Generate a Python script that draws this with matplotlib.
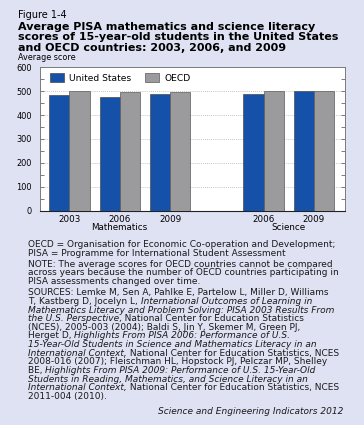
import numpy as np
import matplotlib
matplotlib.use('Agg')
import matplotlib.pyplot as plt
from matplotlib.ticker import MultipleLocator

plt.rcParams['font.family'] = ['DejaVu Sans']

# data
years = ['2003', '2006', '2009', '2006', '2009']
subjects = ['Mathematics', 'Science']
us_scores = [483, 474, 487, 489, 502]
oecd_scores = [500, 498, 496, 500, 501]
series_names = ['United States', 'OECD']

BG = '#dfe2f3'
BLUE = '#1551a8'
GRAY = '#9b9b9d'

fig = plt.figure(figsize=(3.64, 4.25), dpi=100, facecolor=BG)
W, H = 364.0, 425.0
renderer = fig.canvas.get_renderer()

def fx(px):
    return px / W

def fy(py):
    return 1 - py / H

def fit_size(s, target, **kw):      # font size that makes s about target px wide
    t = fig.text(0, 0, s, fontsize=10, **kw)
    w = t.get_window_extent(renderer).width
    t.remove()
    return 10 * target / w

tick_fs = fit_size('2003', 22)
ylab_fs = fit_size('600', 15.5)
leg_fs = fit_size('United States', 62)

ax = fig.add_axes([fx(40.3), fy(210.7), fx(344.5) - fx(40.3), fy(67.3) - fy(210.7)])
ax.set_facecolor('white')

pos = np.array([0, 1, 2, 3.86, 4.86])
bw = 0.4
ax.bar(pos - bw / 2, us_scores, bw, color=BLUE, edgecolor='#4a4a4a', linewidth=0.5,
       label=series_names[0], zorder=3)
ax.bar(pos + bw / 2, oecd_scores, bw, color=GRAY, edgecolor='#5a5a5a', linewidth=0.5,
       label=series_names[1], zorder=3)

ax.set_xlim(-0.58, 5.47)
ax.set_ylim(0, 600)
ax.yaxis.set_major_locator(MultipleLocator(100))
ax.yaxis.set_minor_locator(MultipleLocator(50))
ax.tick_params(axis='y', which='both', direction='in', length=3, width=0.6, color='#666666',
               right=True, labelsize=ylab_fs, pad=6)
ax.tick_params(axis='x', length=0, labelsize=tick_fs, pad=3)
ax.set_xticks(pos)
ax.set_xticklabels(years)
for v in range(100, 600, 100):
    ax.axhline(v, color='#b0b0b0', linestyle=(0, (1, 1.5)), linewidth=0.6, zorder=1)
for s in ['left', 'top', 'right']:
    ax.spines[s].set_color('#7a7a7a')
    ax.spines[s].set_linewidth(0.7)
ax.spines['bottom'].set_color('#222222')
ax.spines['bottom'].set_linewidth(0.8)

ax.text(1, -0.115, subjects[0], transform=ax.get_xaxis_transform(), ha='center', va='center', fontsize=tick_fs)
ax.text((pos[3] + pos[4]) / 2, -0.115, subjects[1], transform=ax.get_xaxis_transform(),
        ha='center', va='center', fontsize=tick_fs)

ax.legend(loc='upper left', ncol=2, frameon=False, fontsize=leg_fs, handlelength=1.5, handleheight=1.05,
          columnspacing=1.5, handletextpad=0.6, borderaxespad=0, borderpad=0,
          bbox_to_anchor=(9.5 / 304.2, 1 - 6.0 / 143.4))

# header texts
title_lines = ['Average PISA mathematics and science literacy',
               'scores of 15-year-old students in the United States',
               'and OECD countries: 2003, 2006, and 2009']
title_fs = fit_size(title_lines[1], 322, fontweight='bold')
fig.text(fx(18.5), fy(15.5), 'Figure 1-4', fontsize=fit_size('Figure 1-4', 49), va='center', ha='left')
for i, t in enumerate(title_lines):
    fig.text(fx(18.5), fy(26.7 + i * 10.6), t, fontsize=title_fs, fontweight='bold', va='center', ha='left')
fig.text(fx(18.5), fy(57), 'Average score', fontsize=fit_size('Average score', 57), va='center', ha='left')

# notes with italic runs
note_lines = [
    [('OECD = Organisation for Economic Co-operation and Development;', 'normal')],
    [('PISA = Programme for International Student Assessment', 'normal')],
    None,
    [('NOTE: The average scores for OECD countries cannot be compared', 'normal')],
    [('across years because the number of OECD countries participating in', 'normal')],
    [('PISA assessments changed over time.', 'normal')],
    None,
    [('SOURCES: Lemke M, Sen A, Pahlke E, Partelow L, Miller D, Williams', 'normal')],
    [('T, Kastberg D, Jocelyn L, ', 'normal'), ('International Outcomes of Learning in', 'italic')],
    [('Mathematics Literacy and Problem Solving: PISA 2003 Results From', 'italic')],
    [('the U.S. Perspective', 'italic'), (', National Center for Education Statistics', 'normal')],
    [('(NCES), 2005-003 (2004); Baldi S, Jin Y, Skemer M, Green PJ,', 'normal')],
    [('Herget D, ', 'normal'), ('Highlights From PISA 2006: Performance of U.S.', 'italic')],
    [('15-Year-Old Students in Science and Mathematics Literacy in an', 'italic')],
    [('International Context,', 'italic'), (' National Center for Education Statistics, NCES', 'normal')],
    [('2008-016 (2007); Fleischman HL, Hopstock PJ, Pelczar MP, Shelley', 'normal')],
    [('BE, ', 'normal'), ('Highlights From PISA 2009: Performance of U.S. 15-Year-Old', 'italic')],
    [('Students in Reading, Mathematics, and Science Literacy in an', 'italic')],
    [('International Context,', 'italic'), (' National Center for Education Statistics, NCES', 'normal')],
    [('2011-004 (2010).', 'normal')],
]
note_fs = fit_size(note_lines[4][0][0], 308)

y = 244.5
for runs in note_lines:
    if runs is None:
        y += 2.5
        continue
    x = 28.0
    for txt, style in runs:
        t = fig.text(fx(x), fy(y), txt, fontsize=note_fs, style=style, va='center', ha='left', color='#1a1a1a')
        x += t.get_window_extent(renderer).width
    y += 8.65

fig.text(fx(343), fy(411), 'Science and Engineering Indicators 2012', fontsize=note_fs, style='italic',
         va='center', ha='right', color='#1a1a1a')

fig.savefig('out.png', dpi=100, facecolor=BG)
